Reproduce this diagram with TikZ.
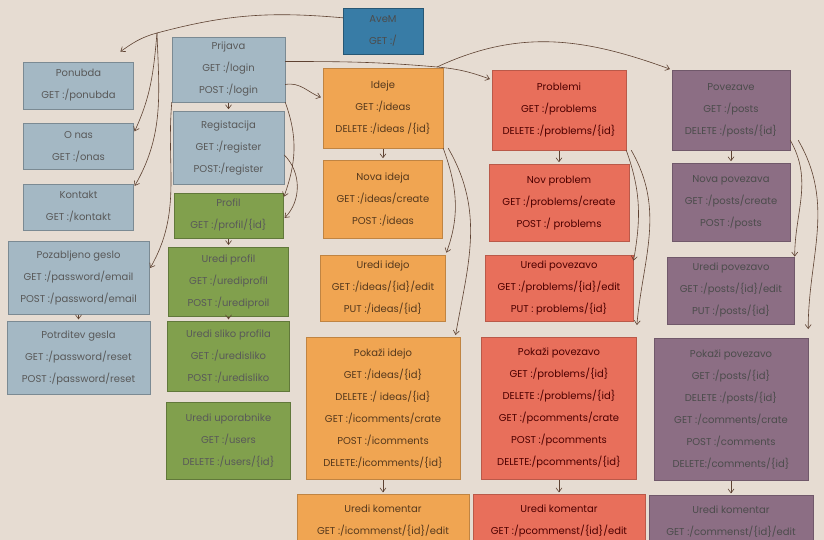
\documentclass[tikz,border=0pt]{standalone}
\usepackage{fontspec}
\setmainfont{Poppins}
\usetikzlibrary{positioning,arrows.meta}

\definecolor{paper}{HTML}{E6DCD2}
\definecolor{pen}{HTML}{5E4232}
\definecolor{homec}{HTML}{387CA6}
\definecolor{guestc}{HTML}{A4B8C4}
\definecolor{userc}{HTML}{81A04D}
\definecolor{ideac}{HTML}{F0A552}
\definecolor{problemc}{HTML}{E86F5B}
\definecolor{postc}{HTML}{8C6E84}

\begin{document}
\begin{tikzpicture}[
    every node/.style={rectangle,align=center,inner sep=4pt,
        font=\fontsize{10}{22}\selectfont},
    home/.style={fill=homec,draw=homec!70!black,text=black!70},
    guest/.style={fill=guestc,draw=guestc!75!black,text=black!65},
    user/.style={fill=userc,draw=userc!75!black,text=black!65},
    idea/.style={fill=ideac,draw=ideac!80!black,text=brown!45!black},
    problem/.style={fill=problemc,draw=problemc!80!black,text=red!30!black},
    post/.style={fill=postc,draw=postc!80!black,text=black!70},
    link/.style={draw=pen,line width=0.6pt,-{Straight Barb[length=4pt,width=6pt]},shorten >=2pt},
    hop/.style={link,shorten <=1pt}
]
    \path[use as bounding box,fill=paper] (0,0) rectangle (824pt,-540pt);

    \node[home,minimum width=80pt,minimum height=46pt] (avem) at (383pt,-31pt) {AveM\\GET :/};

    % guest pages
    \node[guest,minimum width=110pt,minimum height=47pt] (ponubda) at (78.5pt,-85.5pt) {Ponubda\\GET :/ponubda};
    \node[guest,minimum width=110pt,minimum height=46pt,below=14pt of ponubda] (onas) {O nas\\GET :/onas};
    \node[guest,minimum width=110pt,minimum height=46pt,below=14pt of onas] (kontakt) {Kontakt\\GET :/kontakt};
    \node[guest,minimum width=141pt,minimum height=73pt,below=11pt of kontakt] (pozabljeno) {Pozabljeno geslo\\GET :/password/email\\POST :/password/email};
    \node[guest,minimum width=143pt,minimum height=73pt,below=7pt of pozabljeno] (potrditev) {Potrditev gesla\\GET :/password/reset\\POST :/password/reset};

    % login and user pages
    \node[guest,minimum width=113pt,minimum height=65pt] (prijava) at (228.5pt,-69.5pt) {Prijava\\GET :/login\\POST :/login};
    \node[guest,minimum width=111pt,minimum height=73pt,below=9pt of prijava] (registacija) {Registacija\\GET :/register\\POST:/register};
    \node[user,minimum width=109pt,minimum height=45pt,below=8pt of registacija] (profil) {Profil\\GET :/profil/\{id\}};
    \node[user,minimum width=120pt,minimum height=69pt,below=9pt of profil] (urediprofil) {Uredi profil\\GET :/urediprofil\\POST :/urediproil};
    \node[user,minimum width=122pt,minimum height=70pt,below=5pt of urediprofil] (uredisliko) {Uredi sliko profila\\GET :/uredisliko\\POST :/uredisliko};
    \node[user,minimum width=124pt,minimum height=77pt,below=10pt of uredisliko] (uporabniki) {Uredi uporabnike\\GET :/users\\DELETE :/users/\{id\}};

    % ideas
    \node[idea,minimum width=120pt,minimum height=80pt] (ideje) at (383pt,-108pt) {Ideje\\GET :/ideas\\DELETE :/ideas /\{id\}};
    \node[idea,minimum width=119pt,minimum height=78pt,below=12pt of ideje] (novaideja) {Nova ideja\\GET :/ideas/create\\POST :/ideas};
    \node[idea,minimum width=125pt,minimum height=66pt,below=16pt of novaideja] (urediidejo) {Uredi idejo\\GET :/ideas/\{id\}/edit\\PUT :/ideas/\{id\}};
    \node[idea,minimum width=154pt,minimum height=142pt,below=16pt of urediidejo] (pokaziidejo) {Pokaži idejo\\GET :/ideas/\{id\}\\DELETE :/ ideas/\{id\}\\GET :/icomments/crate\\POST :/icomments\\DELETE:/icomments/\{id\}};
    \node[idea,minimum width=172pt,minimum height=52pt,below=15pt of pokaziidejo] (ikomentar) {Uredi komentar\\GET :/icommenst/\{id\}/edit};

    % problems
    \node[problem,minimum width=134pt,minimum height=80pt] (problemi) at (559pt,-110pt) {Problemi\\GET :/problems\\DELETE :/problems/\{id\}};
    \node[problem,minimum width=140pt,minimum height=77pt,below=14pt of problemi] (novproblem) {Nov problem\\GET :/problems/create\\POST :/ problems};
    \node[problem,minimum width=148pt,minimum height=66pt,below=13pt of novproblem] (uredipovezavo) {Uredi povezavo\\GET :/problems/\{id\}/edit\\PUT : problems/\{id\}};
    \node[problem,minimum width=155pt,minimum height=142pt,below=16pt of uredipovezavo] (pokazipovezavo) {Pokaži povezavo\\GET :/problems/\{id\}\\DELETE :/problems/\{id\}\\GET :/pcomments/crate\\POST :/pcomments\\DELETE:/pcomments/\{id\}};
    \node[problem,minimum width=172pt,minimum height=52pt,below=15pt of pokazipovezavo] (pkomentar) {Uredi komentar\\GET :/pcommenst/\{id\}/edit};

    % posts
    \node[post,minimum width=118pt,minimum height=80pt] (povezave) at (731pt,-110pt) {Povezave\\GET :/posts\\DELETE :/posts/\{id\}};
    \node[post,minimum width=118pt,minimum height=78pt,below=13pt of povezave] (novapovezava) {Nova povezava\\GET :/posts/create\\POST :/posts};
    \node[post,minimum width=127pt,minimum height=67pt,below=15pt of novapovezava] (uredipost) {Uredi povezavo\\GET :/posts/\{id\}/edit\\PUT :/posts/\{id\}};
    \node[post,minimum width=154pt,minimum height=142pt,below=14pt of uredipost] (pokazipost) {Pokaži povezavo\\GET :/posts/\{id\}\\DELETE :/posts/\{id\}\\GET :/comments/crate\\POST :/comments\\DELETE:/comments/\{id\}};
    \node[post,minimum width=164pt,minimum height=52pt,below=15pt of pokazipost] (komentar) {Uredi komentar\\GET :/commenst/\{id\}/edit};

    \coordinate (hub) at (157pt,-33pt);
    \coordinate (split) at (437pt,-67pt);

    \foreach \u / \v in {prijava/registacija,pozabljeno/potrditev,profil/urediprofil,urediprofil/uredisliko,
        ideje/novaideja,problemi/novproblem,povezave/novapovezava,
        pokaziidejo/ikomentar,pokazipovezavo/pkomentar,pokazipost/komentar}
        \draw[hop] (\u) -- (\v);

    % hand drawn curves
    \draw[link] ([yshift=-10pt]avem.north west) to[out=175,in=15] (hub)
        to[out=195,in=35] ([shift={(-15pt,9pt)}]ponubda.north east);
    \draw[link] (hub) to[out=-95,in=65] ([yshift=-10pt]onas.north east);
    \draw[link] (hub) to[out=-88,in=60] ([yshift=-4pt]kontakt.north east);
    \draw[link] (prijava.south west) to[out=-95,in=60] ([yshift=8pt]pozabljeno.east);
    \draw[link] ([yshift=-15pt]prijava.east) to[out=10,in=160] ([yshift=10pt]ideje.west);
    \draw[link] ([yshift=8pt]prijava.east) to[out=0,in=175] (split)
        to[out=-5,in=160] ([yshift=-10pt]problemi.north west);
    \draw[link] (split) to[out=25,in=160] (povezave.north west);
    \draw[link] (prijava.south east) to[out=-70,in=70] ([yshift=-6pt]profil.north east);
    \draw[link] ([yshift=-7pt]registacija.east) to[out=-45,in=45] ([yshift=-4pt]profil.east);
    \draw[link] (ideje.south east) to[out=-70,in=70] (urediidejo.north east);
    \draw[link] ([xshift=5pt]ideje.south east) to[out=-60,in=80] ([xshift=-5pt]pokaziidejo.north east);
    \draw[link] (problemi.south east) to[out=-70,in=80] ([yshift=-8pt]uredipovezavo.north east);
    \draw[link] ([xshift=5pt]problemi.south east) to[out=-60,in=85] ([yshift=10pt]pokazipovezavo.north east);
    \draw[link] ([yshift=10pt]povezave.south east) to[out=-60,in=90] ([yshift=-2pt]uredipost.north east);
    \draw[link] ([shift={(8pt,10pt)}]povezave.south east) to[out=-60,in=90] ([yshift=7pt]pokazipost.north east);
\end{tikzpicture}
\end{document}
